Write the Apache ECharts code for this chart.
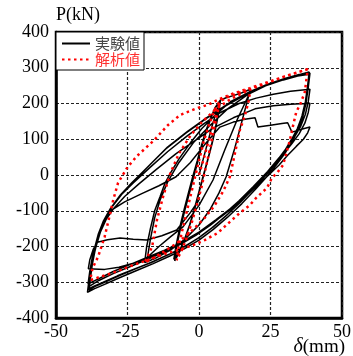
<!DOCTYPE html>
<html>
<head>
<meta charset="utf-8">
<script src="https://cdn.jsdelivr.net/npm/echarts@6/dist/echarts.min.js"></script>
<style>
  html, body { margin: 0; padding: 0; background: #fff; }
  #chart { width: 353px; height: 356px; }
</style>
</head>
<body>
<div id="chart"></div>
<script>
// Load–displacement hysteresis: δ (mm) vs P (kN)
const xTicks = [-50, -25, 0, 25, 50];
const yTicks = [-400, -300, -200, -100, 0, 100, 200, 300, 400];
const seriesNames = ['実験値', '解析値'];

// Test record (実験値), cycle by cycle
const expSmall = [
  [0, 0], [1.5, 45], [3, 90], [4.5, 135], [6, 175], [7.5, 208],
  [6.8, 170], [5.8, 130], [4.5, 85], [3, 40], [1.5, -5], [0, -50], [-1.5, -95], [-3, -135], [-4.8, -175], [-6.5, -210], [-8.5, -240],
  [-7.8, -200], [-6.5, -150], [-5, -100], [-3.5, -55], [-2, -10], [-0.5, 35], [1, 80], [2.5, 120], [4, 155], [5.5, 185], [7.3, 205],
  [6.6, 168], [5.6, 126], [4.3, 82], [2.8, 36], [1.2, -10], [-0.3, -55], [-1.8, -100], [-3.3, -140], [-5, -178], [-6.8, -212], [-8.8, -236],
  [-8, -196], [-6.7, -146], [-5.2, -96], [-3.7, -50], [-2.2, -5], [-0.6, 40], [0.9, 84], [2.4, 124], [4, 158], [5.6, 188], [7.5, 210]
];
const expMedium = [
  [9.5, 216], [12, 222], [15, 230], [18, 240],
  [17, 210], [15.5, 165], [14, 120], [12.5, 75], [11, 35], [9.5, -5], [7, -50], [4, -95], [0, -140], [-5, -180], [-10, -210], [-15, -232], [-19, -245],
  [-18.3, -200], [-17, -150], [-15.5, -100], [-13.6, -60], [-12, -25], [-10, 5], [-7, 45], [-3, 90], [1, 130], [6, 170], [11, 205], [18, 234],
  [16, 200], [13.3, 154], [9, 70], [4.9, -14], [0, -85], [-5.6, -145], [-10, -173], [-14, -200], [-18, -230],
  [-17, -180], [-15.5, -120], [-13.6, -70], [-11, -20], [-7, 35], [-2, 90], [4, 140], [10, 185], [17, 225], [24, 252], [31, 272], [38.5, 288]
];
const expFull1 = [
  [38, 250], [37.2, 205], [36, 165], [34.5, 130], [32.5, 100], [30, 68], [27, 35], [24, 5], [20, -30], [15, -72], [10, -110], [5, -145], [0, -175], [-5, -200], [-10, -220], [-16, -242], [-22, -262], [-28, -282], [-33, -300], [-36.5, -312], [-38.5, -322],
  [-38, -290], [-37.3, -250], [-36.2, -205], [-34.8, -160], [-33, -125], [-30.5, -90], [-27, -52], [-23, -18], [-17, 30], [-11, 78], [-4, 122], [3, 162], [10, 198], [17.5, 232], [24, 254], [30, 270], [35, 281], [38.8, 285]
];
const expFull2 = [
  [38.2, 245], [37.4, 200], [36.2, 160], [34.6, 124], [32.6, 94], [30, 60], [27, 28], [24, -2], [20, -38], [15, -80], [10, -118], [5, -152], [0, -182], [-5, -206], [-10, -226], [-16, -248], [-22, -268], [-28, -288], [-33, -306], [-36.5, -318], [-39, -328],
  [-38.5, -296], [-37.8, -255], [-36.7, -210], [-35.2, -165], [-33.4, -128], [-31, -94], [-27.5, -56], [-23.5, -22], [-17.5, 26], [-11.5, 74], [-4.5, 118], [2.5, 158], [9.5, 194], [17, 228], [23.5, 250], [29.5, 266], [34.5, 277], [38.5, 282]
];
const expFull3 = [
  [38, 245], [37.2, 202], [36, 164], [34.4, 130], [32.4, 100], [29.8, 66], [26.8, 34], [23.5, 2], [19.5, -34], [14.5, -76], [9.5, -114], [4.5, -148], [-0.5, -178], [-5.5, -202], [-10.5, -222], [-16.5, -244], [-22.5, -263], [-28.5, -282], [-33.5, -300], [-36.5, -310], [-38.5, -318],
  [-38, -286], [-37.3, -246], [-36.2, -202], [-34.8, -158], [-33, -124], [-30.5, -90], [-27, -54], [-23, -22], [-17, 22], [-11, 65], [-4, 110], [2, 145], [7.3, 174], [14, 200], [20, 215], [26, 226], [32, 234], [38.8, 240]
];
const expFull4 = [
  [38.2, 205], [37.2, 170], [35.5, 135], [33.5, 108], [31, 80], [28, 48], [24, 10], [19, -32], [14, -72], [9, -108], [4, -140], [-1, -168], [-6, -192], [-12, -215], [-18, -236], [-24, -256], [-30, -276], [-35, -295], [-38.5, -312],
  [-38, -280], [-37.2, -240], [-36, -200], [-34.5, -160], [-32.5, -125], [-30, -95], [-26, -60], [-21, -25], [-15, 15], [-8, 60], [-1, 98], [4.9, 131], [12, 160], [19.6, 185], [26, 194], [32, 198], [38.8, 201]
];
const expFull5 = [
  [38.2, 175], [37, 145], [35, 115], [32.5, 88], [29.5, 58], [26, 25], [22, -10], [17, -50], [12, -88], [6, -125], [0, -160], [-6, -188], [-12, -210], [-18, -230], [-24, -250], [-30, -270], [-35, -290], [-38.8, -305],
  [-38.2, -270], [-37.3, -230], [-36, -190], [-34, -145], [-31, -100], [-26, -75], [-20, -52], [-14, -30], [-8, -5], [-3, 35], [2, 85], [7.3, 134], [12, 148], [16, 156], [19.6, 160], [20.6, 134], [25, 139], [29, 144], [31, 146], [32.5, 120], [35.5, 127], [38.8, 134]
];
const expFinal = [
  [38, 118], [36.5, 100], [34, 80], [31, 55], [28, 28], [24, -3], [19, -40], [14, -78], [8, -115], [2, -150], [-4, -180], [-10, -205], [-16, -225], [-22, -245], [-28, -258], [-33, -264], [-38.7, -262],
  [-38.2, -238], [-37, -208], [-35.5, -188], [-32, -181], [-27.6, -176], [-23, -180], [-18.3, -182], [-13, -170], [-7.8, -154], [-3.1, -106], [0, -70]
];

// Analysis (解析値)
const anaSmall = [
  [0, 0], [2, 55], [4, 115], [6, 170], [7.2, 205],
  [6.5, 175], [5.3, 130], [4, 80], [2.5, 25], [1, -30], [-0.8, -85], [-2.6, -135], [-4.5, -180], [-6.3, -215], [-7.8, -238],
  [-7.2, -205], [-6, -160], [-4.5, -110], [-3, -60], [-1.5, -10], [0, 40], [1.7, 95], [3.5, 140], [5.3, 180], [7.2, 205]
];
const anaMedium = [
  [10, 218], [14, 230], [18, 240],
  [17.3, 205], [16, 165], [14.3, 126], [12.6, 62], [10.8, -5], [8.5, -45], [5.5, -85], [2, -120], [-2, -152], [-6, -180], [-9.5, -200], [-13, -218], [-16, -232], [-19, -245],
  [-18, -229], [-16.4, -201], [-14.7, -126], [-12.6, -62], [-10, 5], [-7, 60], [-3, 110], [1, 148], [6, 185], [11, 212], [18, 240], [24, 258], [30, 276], [38, 296]
];
const anaFull = [
  [37, 232], [35.5, 200], [34, 176], [32.8, 135], [31.8, 98], [30.5, 60], [29.4, 28], [27.5, 8], [25.5, -8], [23.8, -36], [20, -64], [17.8, -84], [14.3, -106], [10.8, -131], [6.6, -162], [2, -182], [-2, -196], [-6, -207], [-11, -218], [-18, -238], [-23, -252], [-27.6, -266], [-31, -276], [-34.6, -285], [-38, -294],
  [-37.5, -270], [-37, -257], [-35.3, -229], [-33, -173], [-31, -106], [-30, -70], [-28.3, -22], [-25, 22], [-21.7, 53], [-16, 95], [-10.8, 140], [-6.6, 168], [-0.7, 187], [3, 196], [7.3, 213], [12, 228], [17.8, 243], [23, 257], [29.4, 274], [34, 286], [38, 296]
];

const expPath = [].concat(expSmall, expMedium, expFull1, expFull2, expFull3, expFull4, expFull5, expFinal);
const anaPath = [].concat(anaSmall, anaMedium, anaFull);

const serif = "'Liberation Serif', 'Times New Roman', serif";
const cjk = "'Noto Sans CJK JP', sans-serif";

const chart = echarts.init(document.getElementById('chart'), null, { renderer: 'canvas' });
chart.setOption({
  animation: false,
  backgroundColor: '#fff',
  grid: {
    left: 56, right: 11, top: 32, bottom: 38,
    outerBoundsMode: 'none',
    containLabel: false,
    show: true, borderColor: '#000', borderWidth: 2.5, backgroundColor: 'transparent'
  },
  legend: {
    left: 56, top: 32, orient: 'vertical',
    itemWidth: 28, itemHeight: 14, itemGap: 1,
    padding: [4, 4, 3, 5],
    borderColor: '#000', borderWidth: 1, borderRadius: 0,
    backgroundColor: '#fff',
    itemStyle: { opacity: 0 },
    textStyle: { fontFamily: cjk, fontSize: 15 },
    data: [
      { name: seriesNames[0], textStyle: { color: '#444' } },
      { name: seriesNames[1], textStyle: { color: '#ff3030' } }
    ]
  },
  // x-axis title, bottom right under the tick labels
  graphic: [{
    type: 'text', right: 8, top: 337, z: 10,
    style: {
      text: '{i|δ}(mm)',
      fill: '#000',
      font: "19px 'Liberation Serif', serif",
      rich: { i: { fontStyle: 'italic', fontFamily: 'Liberation Serif', fontSize: 20, fill: '#000' } }
    }
  }],
  xAxis: {
    type: 'value', min: xTicks[0], max: xTicks[xTicks.length - 1], interval: 25,
    axisLine: { show: true, onZero: false, lineStyle: { color: '#000', width: 2.5 } },
    axisTick: { show: false },
    axisLabel: { color: '#000', fontFamily: serif, fontSize: 18, margin: 5 },
    splitLine: { show: true, lineStyle: { color: '#222', type: [3, 2], width: 1.2 } }
  },
  yAxis: {
    type: 'value', min: yTicks[0], max: yTicks[yTicks.length - 1], interval: 100,
    axisLine: { show: true, onZero: false, lineStyle: { color: '#000', width: 2.5 } },
    axisTick: { show: false },
    axisLabel: { color: '#000', fontFamily: serif, fontSize: 18, margin: 7 },
    splitLine: { show: true, lineStyle: { color: '#222', type: [3, 2], width: 1.2 } },
    name: 'P(kN)',
    nameLocation: 'end', nameGap: 8,
    nameTextStyle: { color: '#000', fontFamily: serif, fontSize: 18, align: 'left', verticalAlign: 'bottom' }
  },
  series: [
    {
      name: seriesNames[0], type: 'line', data: expPath,
      symbol: 'none', clip: true, z: 2,
      lineStyle: { color: '#000', width: 1.5 },
      itemStyle: { color: '#000' }
    },
    {
      name: seriesNames[1], type: 'line', data: anaPath,
      symbol: 'none', clip: true, z: 3,
      lineStyle: { color: '#ff0000', width: 2.5, type: [2.5, 3.5] },
      itemStyle: { color: '#ff0000' }
    }
  ]
});
</script>
</body>
</html>
